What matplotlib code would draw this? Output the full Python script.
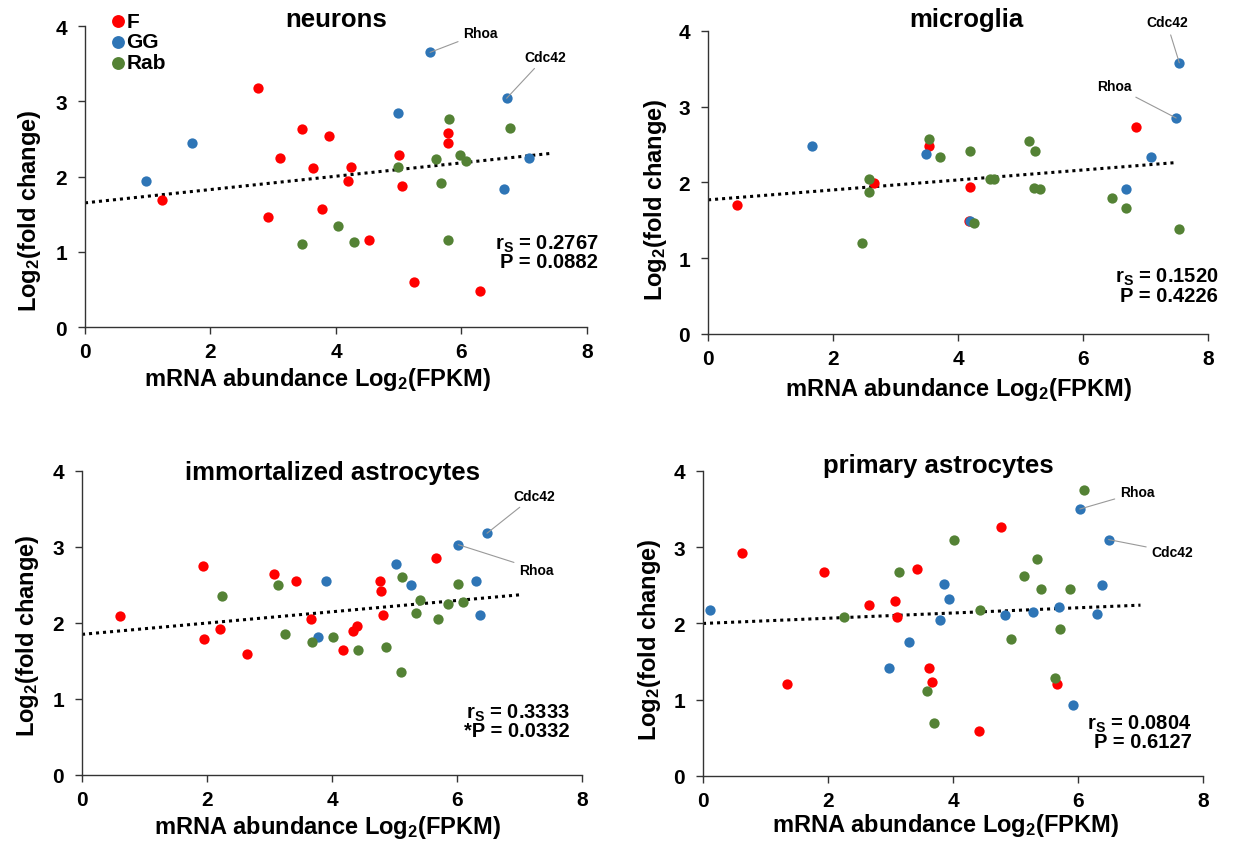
import numpy as np
import matplotlib
matplotlib.use("Agg")
import matplotlib.pyplot as plt

plt.rcParams["font.family"] = ["Liberation Sans", "DejaVu Sans"]
plt.rcParams["font.weight"] = "bold"
plt.rcParams["mathtext.fontset"] = "custom"
plt.rcParams["mathtext.rm"] = "Liberation Sans:bold"
plt.rcParams["mathtext.it"] = "Liberation Sans:bold"
plt.rcParams["mathtext.bf"] = "Liberation Sans:bold"

# --- datos ---
# neurons
neu_F_x = [1.22, 2.75, 3.46, 3.89, 3.11, 3.64, 4.24, 4.19, 3.78, 2.91, 4.53, 5.01, 5.05, 5.78, 5.78, 5.24, 6.29]
neu_F_y = [1.69, 3.17, 2.63, 2.54, 2.25, 2.11, 2.13, 1.94, 1.57, 1.46, 1.15, 2.29, 1.88, 2.58, 2.44, 0.60, 0.48]
neu_GG_x = [0.98, 1.70, 5.50, 4.99, 6.72, 7.07, 6.67]
neu_GG_y = [1.94, 2.44, 3.65, 2.84, 3.04, 2.25, 1.83]
neu_Rab_x = [5.80, 6.77, 4.99, 5.60, 5.97, 6.07, 5.67, 4.03, 3.46, 4.28, 5.78]
neu_Rab_y = [2.77, 2.65, 2.13, 2.23, 2.29, 2.21, 1.92, 1.34, 1.11, 1.13, 1.15]

# microglia
mic_F_x = [0.46, 2.66, 3.54, 4.19, 4.17, 6.85]
mic_F_y = [1.70, 1.99, 2.48, 1.94, 1.49, 2.73]
mic_GG_x = [1.67, 3.48, 4.19, 7.08, 6.68, 7.49, 7.54]
mic_GG_y = [2.48, 2.37, 1.49, 2.33, 1.91, 2.85, 3.58]
mic_Rab_x = [2.57, 2.57, 2.47, 3.54, 3.71, 4.19, 4.26, 4.51, 4.57, 5.13, 5.23, 5.21, 5.31, 6.46, 6.68, 7.54]
mic_Rab_y = [2.04, 1.87, 1.20, 2.58, 2.33, 2.41, 1.47, 2.04, 2.04, 2.55, 2.41, 1.93, 1.91, 1.79, 1.66, 1.39]

# immortalized astrocytes
imm_F_x = [0.61, 1.93, 1.95, 2.20, 2.64, 3.07, 3.42, 3.66, 4.17, 4.33, 4.40, 4.77, 4.79, 4.81, 5.66]
imm_F_y = [2.09, 2.75, 1.79, 1.92, 1.59, 2.64, 2.55, 2.05, 1.64, 1.90, 1.96, 2.55, 2.42, 2.11, 2.86]
imm_GG_x = [3.91, 3.78, 5.02, 5.26, 6.02, 6.48, 6.30, 6.37]
imm_GG_y = [2.55, 1.82, 2.78, 2.50, 3.03, 3.18, 2.55, 2.11]
imm_Rab_x = [2.24, 3.13, 3.25, 3.68, 4.01, 4.42, 4.86, 5.11, 5.12, 5.34, 5.41, 5.70, 5.86, 6.02, 6.10]
imm_Rab_y = [2.36, 2.50, 1.86, 1.75, 1.81, 1.65, 1.69, 1.36, 2.61, 2.13, 2.30, 2.05, 2.25, 2.51, 2.28]

# primary astrocytes
pri_F_x = [0.62, 1.35, 1.93, 2.65, 3.08, 3.10, 3.42, 3.62, 3.67, 4.41, 4.77, 5.66]
pri_F_y = [2.93, 1.21, 2.68, 2.24, 2.30, 2.09, 2.72, 1.41, 1.23, 0.59, 3.27, 1.21]
pri_GG_x = [0.12, 2.97, 3.30, 3.79, 3.86, 3.93, 4.84, 5.28, 5.69, 5.92, 6.03, 6.30, 6.38, 6.49]
pri_GG_y = [2.17, 1.42, 1.76, 2.05, 2.52, 2.32, 2.11, 2.15, 2.21, 0.93, 3.50, 2.13, 2.51, 3.10]
pri_Rab_x = [2.25, 3.14, 3.58, 3.70, 4.02, 4.43, 4.93, 5.13, 5.34, 5.41, 5.71, 5.64, 5.87, 6.10]
pri_Rab_y = [2.09, 2.68, 1.12, 0.70, 3.10, 2.17, 1.79, 2.62, 2.85, 2.45, 1.93, 1.29, 2.45, 3.75]

# lineas de tendencia (extremos leidos)
neu_trend_x, neu_trend_y = [0, 7.45], [1.65, 2.31]
mic_trend_x, mic_trend_y = [0, 7.45], [1.77, 2.26]
imm_trend_x, imm_trend_y = [0, 7.0], [1.85, 2.37]
pri_trend_x, pri_trend_y = [0, 7.0], [2.00, 2.24]

titles = ["neurons", "microglia", "immortalized astrocytes", "primary astrocytes"]
stats = [("0.2767", "P = 0.0882"), ("0.1520", "P = 0.4226"),
         ("0.3333", "*P = 0.0332"), ("0.0804", "P = 0.6127")]

c_F = "#FF0000"
c_GG = "#2E75B6"
c_Rab = "#548235"

fig = plt.figure(figsize=(12.37, 8.45), dpi=100)

axes_pos = [[0.0687, 0.6118, 0.4058, 0.3562],
            [0.5724, 0.6036, 0.4042, 0.3586],
            [0.0663, 0.0817, 0.4042, 0.3598],
            [0.5683, 0.0805, 0.4042, 0.3610]]

paneles = [
    (neu_F_x, neu_F_y, neu_GG_x, neu_GG_y, neu_Rab_x, neu_Rab_y, neu_trend_x, neu_trend_y),
    (mic_F_x, mic_F_y, mic_GG_x, mic_GG_y, mic_Rab_x, mic_Rab_y, mic_trend_x, mic_trend_y),
    (imm_F_x, imm_F_y, imm_GG_x, imm_GG_y, imm_Rab_x, imm_Rab_y, imm_trend_x, imm_trend_y),
    (pri_F_x, pri_F_y, pri_GG_x, pri_GG_y, pri_Rab_x, pri_Rab_y, pri_trend_x, pri_trend_y),
]

# posiciones de titulos, etiquetas y estadisticos (coordenadas de ejes / datos)
title_pos = [(0.5, 1.023), (0.516, 1.04), (0.5, 0.997), (0.47, 1.02)]
ylab_pos = [(-0.11, 0.39), (-0.106, 0.445), (-0.11, 0.46), (-0.106, 0.45)]
xlab_pos = [(0.464, -0.17), (0.5, -0.18), (0.49, -0.17), (0.484, -0.16)]
stat_pos = [(8.18, 1.0), (8.16, 0.64), (7.8, 0.71), (7.82, 0.58)]

# etiquetas de genes: (panel, nombre, indice GG, offset en puntos, ha)
gene_labels = [
    (0, "Rhoa", 2, (24, 14), "left"),
    (0, "Cdc42", 4, (13, 30), "left"),
    (1, "Cdc42", 6, (-9, 29), "center"),
    (1, "Rhoa", 5, (-32, 23), "right"),
    (2, "Cdc42", 5, (19, 27), "left"),
    (2, "Rhoa", 4, (44, -18), "left"),
    (3, "Rhoa", 10, (29, 12), "left"),
    (3, "Cdc42", 13, (31, -9), "left"),
]

axs = []
for i, pos in enumerate(axes_pos):
    ax = fig.add_axes(pos)
    Fx, Fy, Gx, Gy, Rx, Ry, tx, ty = paneles[i]
    ax.plot(tx, ty, color="black", lw=2.2, linestyle=(0, (1, 1.3)), zorder=1)
    ax.scatter(Fx, Fy, s=55, color=c_F, linewidths=0, label="F", zorder=3, clip_on=False)
    ax.scatter(Gx, Gy, s=55, color=c_GG, linewidths=0, label="GG", zorder=3, clip_on=False)
    ax.scatter(Rx, Ry, s=55, color=c_Rab, linewidths=0, label="Rab", zorder=3, clip_on=False)

    ax.set_xlim(0, 8)
    ax.set_ylim(0, 4)
    ax.set_xticks([0, 2, 4, 6, 8])
    ax.set_yticks([0, 1, 2, 3, 4])
    for s in ["top", "right"]:
        ax.spines[s].set_visible(False)
    for s in ["left", "bottom"]:
        ax.spines[s].set_color("#333333")
        ax.spines[s].set_linewidth(1.0)
    ax.tick_params(direction="out", length=5, width=1.0, color="#333333",
                   labelsize=15)
    ax.tick_params(axis="x", pad=6)
    ax.tick_params(axis="y", pad=8)
    for lbl in ax.get_xticklabels() + ax.get_yticklabels():
        lbl.set_fontweight("bold")

    ax.text(title_pos[i][0], title_pos[i][1], titles[i], transform=ax.transAxes,
            ha="center", va="center", fontsize=18.5, fontweight="bold")
    ax.set_ylabel(r"Log$_2$(fold change)", fontsize=17, fontweight="bold")
    ax.yaxis.set_label_coords(*ylab_pos[i])
    ax.yaxis.label.set_va("center")
    ax.set_xlabel(r"mRNA abundance Log$_2$(FPKM)", fontsize=17, fontweight="bold")
    ax.xaxis.set_label_coords(*xlab_pos[i])
    ax.xaxis.label.set_va("center")

    ax.text(stat_pos[i][0], stat_pos[i][1],
            r"r$_S$ = " + stats[i][0] + "\n" + stats[i][1],
            ha="right", va="center", fontsize=14.5, fontweight="bold",
            linespacing=0.9)
    axs.append(ax)

for p, name, idx, off, ha in gene_labels:
    Gx, Gy = paneles[p][2], paneles[p][3]
    axs[p].annotate(name, xy=(Gx[idx], Gy[idx]), xytext=off, textcoords="offset points",
                    ha=ha, va="center", fontsize=10, fontweight="bold",
                    arrowprops=dict(arrowstyle="-", color="#999999", lw=0.8,
                                    shrinkA=2, shrinkB=0))

axs[0].legend(loc="upper left", bbox_to_anchor=(0.0905, 0.985),
              bbox_transform=fig.transFigure, frameon=False,
              prop={"size": 15, "weight": "bold"}, markerscale=1.25,
              handlelength=0.6, handletextpad=0.1, labelspacing=0.08,
              borderpad=0, borderaxespad=0, scatterpoints=1)

fig.savefig("out.png", dpi=100)
